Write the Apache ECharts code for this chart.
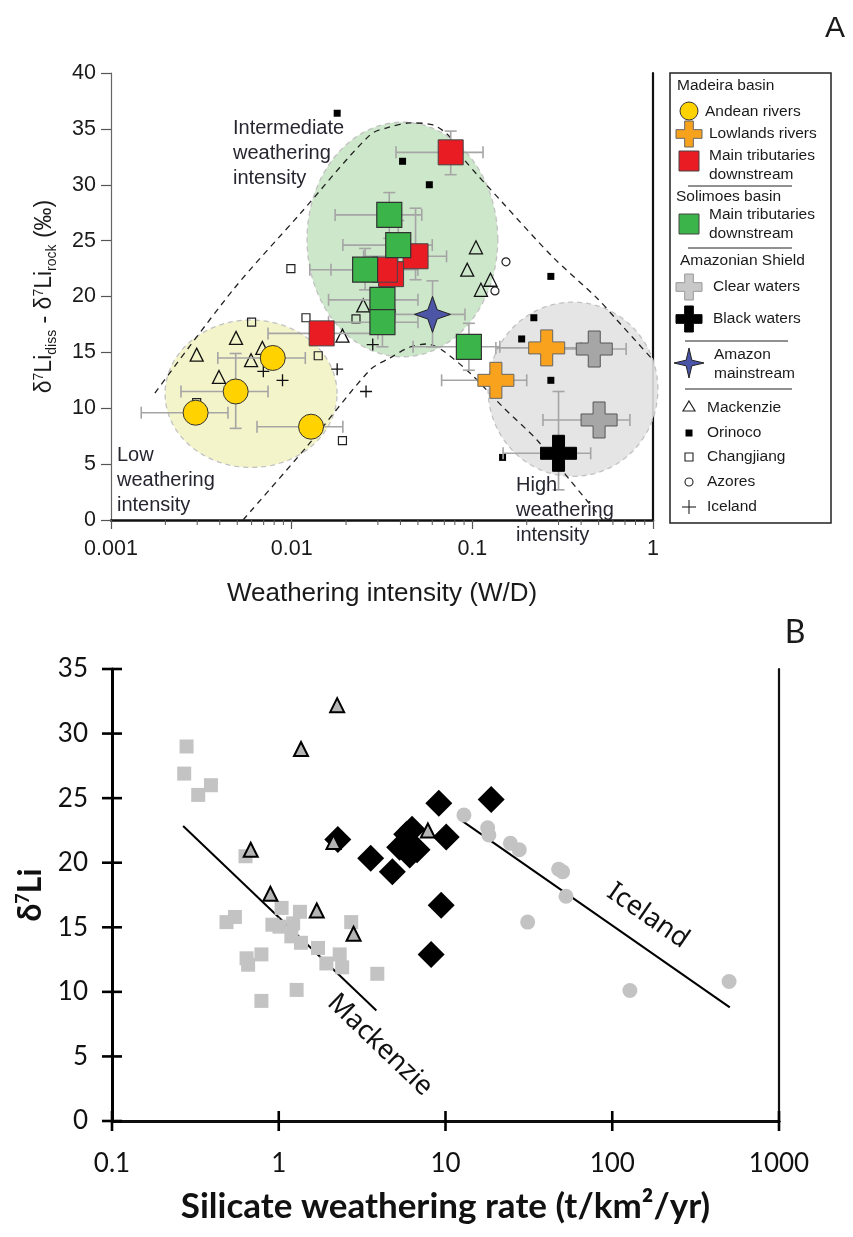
<!DOCTYPE html>
<html><head><meta charset="utf-8">
<script src="https://cdn.jsdelivr.net/npm/echarts@6/dist/echarts.min.js"></script>
<style>html,body{margin:0;padding:0;background:#fff}#c{width:853px;height:1237px}</style>
</head><body><div id="c"></div>
<script>
// ---------------- Panel A data ----------------
const andeanRivers = [[0.00294, 9.6], [0.0049, 11.5], [0.00786, 14.5], [0.0128, 8.35]];
const andeanErr = [[0.00147, 0.00444, null, null], [0.00244, 0.0074, 8.2, 14.9], [0.0039, 0.0119, null, null], [0.00643, 0.0192, null, null]];
const lowlandsRivers = [[0.258, 15.4], [0.135, 12.5]];
const lowlandsErr = [[0.135, 0.40, null, null], [0.0676, 0.2, null, null]];
const madeiraTrib = [[0.0759, 32.9], [0.0485, 23.6], [0.0355, 22.0], [0.0328, 22.4], [0.01466, 16.7]];
const madeiraErr = [[0.0378, 0.1146, 30.9, 34.8], [0.025, 0.072, 21.5, 27.9], [null, null, null, null], [0.0165, 0.05, null, null], [0.0074, 0.03, null, null]];
const solimoesTrib = [[0.0347, 27.3], [0.0389, 24.6], [0.0255, 22.4], [0.0318, 19.7], [0.0318, 17.7], [0.0957, 15.5]];
const solimoesErr = [[0.0174, 0.0525, 25.2, 29.3], [0.0192, 0.06, 22.5, 26.8], [0.0126, 0.04, 20.6, 24.3], [0.016, 0.05, 17.2, 22.2], [0.016, 0.05, 15.5, 20.0], [0.047, 0.142, 13.4, 17.6]];
const clearWaters = [[0.473, 15.3], [0.503, 8.95]];
const clearErr = [[0.27, 0.71, null, null], [0.246, 0.745, null, null]];
const blackWaters = [[0.30, 5.97]];
const blackErr = [[0.148, 0.452, 2.7, 11.5]];
const amazonMain = [[0.0602, 18.4]];
const amazonErr = [[0.0373, 0.091, 15.5, 21.4]];

const mackenzieA = [[0.00492, 16.3], [0.00298, 14.8], [0.00396, 12.8], [0.00596, 14.3], [0.00688, 15.4], [0.0191, 16.5], [0.0249, 19.2], [0.1047, 24.4], [0.0937, 22.4], [0.126, 21.5], [0.1116, 20.6]];
const orinocoA = [[0.01786, 36.4], [0.0411, 32.1], [0.0578, 30.0], [0.272, 21.8], [0.219, 18.1], [0.1875, 16.2], [0.272, 12.5], [0.147, 5.6]];
const changjiangA = [[0.0099, 22.5], [0.0060, 17.7], [0.0120, 18.1], [0.0227, 18.0], [0.01403, 14.7], [0.00298, 10.5], [0.0191, 7.1]];
const azoresA = [[0.1535, 23.1], [0.1334, 20.5]];
const icelandA = [[0.00697, 13.3], [0.0089, 12.5], [0.01786, 13.5], [0.0258, 11.5], [0.0281, 15.7]];

// shaded regions: centre [W/D, d7Li], half-widths [decades, permil]
const regionCentres = [[0.00596, 11.3], [0.0410, 25.1], [0.3606, 11.7]];
const regionRadii = [[0.476, 6.6], [0.528, 10.5], [0.47, 7.8]];
// dashed envelopes
const outerEnvelope = [[0.00175, 11.36], [0.00473, 20.58], [0.0111, 27.38], [0.0271, 34.45], [0.0350, 35.17], [0.0452, 35.53], [0.0605, 35.35], [0.0752, 34.27], [0.0887, 32.39], [0.1476, 28.37], [0.279, 23.53], [0.489, 19.87], [0.631, 17.9], [1.0, 14.32]];
const innerEnvelope = [[0.00538, 0], [0.01211, 6.56], [0.0271, 13.42], [0.035, 14.5], [0.0452, 15.48], [0.0561, 15.75], [0.0679, 15.21], [0.097, 13.15], [0.1476, 10.11], [0.228, 7.16], [0.3467, 3.58], [0.528, 0]];
const minorTicksA = [0.002, 0.003, 0.004, 0.005, 0.006, 0.007, 0.008, 0.009, 0.02, 0.03, 0.04, 0.05, 0.06, 0.07, 0.08, 0.09, 0.2, 0.3, 0.4, 0.5, 0.6, 0.7, 0.8, 0.9];

// ---------------- Panel B data ----------------
const mackenzieSq = [[0.280, 29.0], [0.271, 26.9], [0.392, 26.0], [0.329, 25.25], [0.632, 20.5], [0.486, 15.4], [0.546, 15.8], [0.641, 12.6], [0.655, 12.1], [0.787, 12.9], [0.787, 9.3], [0.916, 15.2], [1.04, 16.5], [1.01, 15.05], [1.22, 15.3], [1.34, 16.2], [1.19, 14.3], [1.36, 13.8], [1.28, 10.15], [1.72, 13.4], [1.93, 12.2], [2.32, 12.9], [2.40, 11.9], [2.72, 15.4], [3.90, 11.4]];
const trianglesB = [[2.24, 32.2], [1.36, 28.8], [0.679, 21.0], [2.13, 21.6], [7.84, 22.5], [0.891, 17.6], [1.69, 16.3], [2.81, 14.5]];
const diamondsB = [[2.26, 21.8], [3.56, 20.35], [4.80, 19.3], [5.31, 21.2], [5.85, 22.2], [6.3, 22.6], [6.75, 21.0], [6.1, 20.6], [9.12, 24.6], [10.1, 22.0], [18.8, 24.9], [9.42, 16.7], [8.20, 12.9]];
const icelandB = [[12.9, 23.7], [17.9, 22.7], [18.2, 22.15], [24.5, 21.5], [27.7, 21.0], [47.7, 19.5], [50.4, 19.3], [52.8, 17.4], [31.1, 15.4], [127.6, 10.1], [502, 10.8]];
const mackenzieTrend = [[0.267, 22.85], [3.85, 8.55]];
const icelandTrend = [[12.7, 23.2], [507, 8.8]];
const ticksBX = [0.1, 1, 10, 100, 1000];
const ticksBY = [0, 5, 10, 15, 20, 25, 30, 35];

// ---------------- helpers ----------------
const FA = '"Liberation Sans", Arial, sans-serif';
const FB = 'Lato, "Open Sans", sans-serif';
const CROSS = 'path://M1,0H2V1H3V2H2V3H1V2H0V1H1Z';
const STAR = 'path://M0,-10L2.6,-2.6L10,0L2.6,2.6L0,10L-2.6,2.6L-10,0L-2.6,-2.6Z';
const PLUS = 'path://M0,4.45H4.45V0H5.55V4.45H10V5.55H5.55V10H4.45V5.55H0Z';

function errRows(pts, errs) {
  return pts.map((p, i) => [p[0], p[1]].concat(errs[i].map(v => v == null ? '-' : v)));
}
function errRender(params, api) {
  const x = api.value(0), y = api.value(1);
  const xlo = api.value(2), xhi = api.value(3), ylo = api.value(4), yhi = api.value(5);
  const st = { stroke: '#a5a5a5', lineWidth: 1.6 };
  const cap = 6, ch = [];
  const ln = (a, b, c, d) => ch.push({ type: 'line', shape: { x1: a, y1: b, x2: c, y2: d }, style: st });
  if (isFinite(xlo) && isFinite(xhi)) {
    const p1 = api.coord([xlo, y]), p2 = api.coord([xhi, y]);
    ln(p1[0], p1[1], p2[0], p2[1]);
    ln(p1[0], p1[1] - cap, p1[0], p1[1] + cap);
    ln(p2[0], p2[1] - cap, p2[0], p2[1] + cap);
  }
  if (isFinite(ylo) && isFinite(yhi)) {
    const p1 = api.coord([x, ylo]), p2 = api.coord([x, yhi]);
    ln(p1[0], p1[1], p2[0], p2[1]);
    ln(p1[0] - cap, p1[1], p1[0] + cap, p1[1]);
    ln(p2[0] - cap, p2[1], p2[0] + cap, p2[1]);
  }
  return { type: 'group', children: ch };
}
function errSeries(pts, errs) {
  return { type: 'custom', xAxisIndex: 0, yAxisIndex: 0, z: 4, silent: true, clip: false,
    data: errRows(pts, errs), encode: { x: 0, y: 1 }, renderItem: errRender };
}
const regionFill = ['rgba(243,243,198,0.92)', 'rgba(200,228,196,0.9)', 'rgba(226,226,226,0.9)'];
function ellipseRender(params, api) {
  const cx = api.value(0), cy = api.value(1), rx = api.value(2), ry = api.value(3);
  const lc = Math.log10(cx), pts = [];
  for (let i = 0; i <= 90; i++) {
    const t = i / 90 * 2 * Math.PI;
    pts.push(api.coord([Math.pow(10, lc + rx * Math.cos(t)), cy + ry * Math.sin(t)]));
  }
  return { type: 'polygon', shape: { points: pts },
    style: { fill: regionFill[params.dataIndex], stroke: '#c2c2c2', lineWidth: 1.3, lineDash: [5, 4] } };
}
function minorTickRender(params, api) {
  const p = api.coord([api.value(0), 0]);
  return { type: 'line', shape: { x1: p[0], y1: p[1], x2: p[0], y2: p[1] + 5 }, style: { stroke: '#555', lineWidth: 1 } };
}
function crossTickX(params, api) {
  const p = api.coord([api.value(0), api.value(1)]);
  return { type: 'line', shape: { x1: p[0], y1: p[1] - 10, x2: p[0], y2: p[1] + 10 }, style: { stroke: '#000', lineWidth: 2.6 } };
}
function crossTickY(params, api) {
  const p = api.coord([api.value(0), api.value(1)]);
  return { type: 'line', shape: { x1: p[0] - 10, y1: p[1], x2: p[0] + 10, y2: p[1] }, style: { stroke: '#000', lineWidth: 2.6 } };
}
function scat(data, symbol, size, style, xi, yi, z) {
  return { type: 'scatter', xAxisIndex: xi, yAxisIndex: yi, data, symbol, symbolSize: size,
    symbolKeepAspect: true, itemStyle: Object.assign({ opacity: 1 }, style), z: z, silent: true };
}
function crossPts(cx, cy, s) {
  const a = s / 6;
  return [[cx - a, cy - 3 * a], [cx + a, cy - 3 * a], [cx + a, cy - a], [cx + 3 * a, cy - a], [cx + 3 * a, cy + a], [cx + a, cy + a], [cx + a, cy + 3 * a], [cx - a, cy + 3 * a], [cx - a, cy + a], [cx - 3 * a, cy + a], [cx - 3 * a, cy - a], [cx - a, cy - a]];
}
function starPts(cx, cy, R, r) {
  const p = [];
  for (let i = 0; i < 8; i++) {
    const ang = i * Math.PI / 4 - Math.PI / 2, rad = i % 2 === 0 ? R : r;
    p.push([cx + rad * Math.cos(ang), cy + rad * Math.sin(ang)]);
  }
  return p;
}
function txt(t, x, y, size, opts) {
  opts = opts || {};
  return { type: 'text', z: 100, silent: true, x: 0, y: 0, rotation: opts.rotation || 0,
    originX: x, originY: y,
    style: { text: t, x: x, y: y, fontSize: size, fontFamily: opts.family || FA, fontWeight: opts.weight || 'normal',
      fill: opts.color || '#1a1a1a', align: opts.align || 'left', textAlign: opts.align || 'left',
      verticalAlign: 'middle', textVerticalAlign: 'middle', lineHeight: opts.lineHeight || size * 1.2 } };
}

// ---------------- legend (panel A) ----------------
const LX = 689;
const legendG = [
  { type: 'rect', z: 90, shape: { x: 670, y: 73, width: 161, height: 450 }, style: { fill: '#fff', stroke: '#222', lineWidth: 1.5 } },
  txt('Madeira basin', 677, 86, 15.5),
  { type: 'circle', z: 95, shape: { cx: LX, cy: 111, r: 9 }, style: { fill: '#ffd200', stroke: '#333', lineWidth: 1 } },
  txt('Andean rivers', 705, 112, 15.5),
  { type: 'polygon', z: 95, shape: { points: crossPts(LX, 134, 26) }, style: { fill: '#f7a21c', stroke: '#666', lineWidth: 1 } },
  txt('Lowlands rivers', 709, 134, 15.5),
  { type: 'rect', z: 95, shape: { x: LX - 10, y: 151, width: 20, height: 20 }, style: { fill: '#e91c24', stroke: '#444', lineWidth: 1 } },
  txt('Main tributaries\ndownstream', 709, 165, 15.5, { lineHeight: 19 }),
  { type: 'line', z: 95, shape: { x1: 688, y1: 186, x2: 792, y2: 186 }, style: { stroke: '#222', lineWidth: 1 } },
  txt('Solimoes basin', 676, 197, 15.5),
  { type: 'rect', z: 95, shape: { x: LX - 10, y: 214, width: 20, height: 20 }, style: { fill: '#3bb54a', stroke: '#444', lineWidth: 1 } },
  txt('Main tributaries\ndownstream', 709, 224, 15.5, { lineHeight: 19 }),
  { type: 'line', z: 95, shape: { x1: 688, y1: 248, x2: 792, y2: 248 }, style: { stroke: '#222', lineWidth: 1 } },
  txt('Amazonian Shield', 680, 261, 15.5),
  { type: 'polygon', z: 95, shape: { points: crossPts(LX, 287, 26) }, style: { fill: '#c8c8c8', stroke: '#999', lineWidth: 1 } },
  txt('Clear waters', 713, 287, 15.5),
  { type: 'polygon', z: 95, shape: { points: crossPts(LX, 319, 26) }, style: { fill: '#000', stroke: '#000', lineWidth: 1 } },
  txt('Black waters', 713, 319, 15.5),
  { type: 'line', z: 95, shape: { x1: 685, y1: 341, x2: 788, y2: 341 }, style: { stroke: '#222', lineWidth: 1.2 } },
  { type: 'polygon', z: 95, shape: { points: starPts(LX, 363, 15, 4) }, style: { fill: '#4a54a6', stroke: '#222', lineWidth: 1 } },
  txt('Amazon\nmainstream', 714, 364, 15.5, { lineHeight: 19 }),
  { type: 'line', z: 95, shape: { x1: 685, y1: 389, x2: 792, y2: 389 }, style: { stroke: '#222', lineWidth: 1 } },
  { type: 'polygon', z: 95, shape: { points: [[LX, 401], [LX + 6, 411], [LX - 6, 411]] }, style: { fill: '#fff', stroke: '#222', lineWidth: 1.2 } },
  txt('Mackenzie', 707, 408, 15.5),
  { type: 'rect', z: 95, shape: { x: LX - 3.5, y: 429.5, width: 7, height: 7 }, style: { fill: '#000' } },
  txt('Orinoco', 707, 433, 15.5),
  { type: 'rect', z: 95, shape: { x: LX - 4, y: 453, width: 8, height: 8 }, style: { fill: '#fff', stroke: '#222', lineWidth: 1.1 } },
  txt('Changjiang', 707, 457, 15.5),
  { type: 'circle', z: 95, shape: { cx: LX, cy: 482, r: 4 }, style: { fill: '#fff', stroke: '#222', lineWidth: 1.1 } },
  txt('Azores', 707, 482, 15.5),
  { type: 'line', z: 95, shape: { x1: LX - 7, y1: 507, x2: LX + 7, y2: 507 }, style: { stroke: '#222', lineWidth: 1.1 } },
  { type: 'line', z: 95, shape: { x1: LX, y1: 500, x2: LX, y2: 514 }, style: { stroke: '#222', lineWidth: 1.1 } },
  txt('Iceland', 707, 507, 15.5)
];

const annotations = [
  txt('A', 835, 29, 30, { align: 'center' }),
  txt('B', 795, 633, 32, { align: 'center', family: FB }),
  txt('Intermediate\nweathering\nintensity', 233, 153, 20, { lineHeight: 25, color: '#262630' }),
  txt('Low\nweathering\nintensity', 117, 480, 20, { lineHeight: 25, color: '#262630' }),
  txt('High\nweathering\nintensity', 516, 510, 20, { lineHeight: 25, color: '#262630' }),
  txt('Mackenzie', 380, 1045, 27, { align: 'center', family: '"Noto Sans", sans-serif', rotation: -43.7 * Math.PI / 180, color: '#111' }),
  txt('Iceland', 648, 916, 27, { align: 'center', family: '"Noto Sans", sans-serif', rotation: -34.8 * Math.PI / 180, color: '#111' })
];

// ---------------- chart ----------------
const chart = echarts.init(document.getElementById('c'), null, { renderer: 'canvas' });
const plainLog = v => String(v);
const option = {
  animation: false,
  backgroundColor: '#fff',
  grid: [
    { left: 111, top: 73, width: 542, height: 447 },
    { left: 112, top: 669, width: 667, height: 452 }
  ],
  xAxis: [
    { gridIndex: 0, type: 'log', logBase: 10, min: 0.001, max: 1,
      axisLine: { lineStyle: { color: '#666', width: 1.2 } },
      axisTick: { length: 9, lineStyle: { color: '#555', width: 1.2 } },
      axisLabel: { fontSize: 21.5, color: '#1a1a1a', fontFamily: FA, margin: 18, formatter: plainLog },
      splitLine: { show: false },
      name: 'Weathering intensity (W/D)', nameLocation: 'middle', nameGap: 61,
      nameTextStyle: { fontSize: 26, color: '#1a1a1a', fontFamily: FA } },
    { gridIndex: 0, type: 'log', logBase: 10, min: 0.001, max: 1, position: 'top',
      axisLine: { lineStyle: { color: '#111', width: 2.5 } }, axisTick: { show: false }, axisLabel: { show: false }, splitLine: { show: false } },
    { gridIndex: 1, type: 'log', logBase: 10, min: 0.1, max: 1000,
      axisLine: { lineStyle: { color: '#000', width: 3 } },
      axisTick: { show: false },
      axisLabel: { fontSize: 26, color: '#111', fontFamily: FB, margin: 30, formatter: plainLog },
      splitLine: { show: false },
      name: 'Silicate weathering rate (t/km²/yr)', nameLocation: 'middle', nameGap: 68,
      nameTextStyle: { fontSize: 35, fontWeight: 'bold', color: '#111', fontFamily: FB } },
    { gridIndex: 1, type: 'log', logBase: 10, min: 0.1, max: 1000, position: 'top',
      axisLine: { lineStyle: { color: '#111', width: 2.5 } }, axisTick: { show: false }, axisLabel: { show: false }, splitLine: { show: false } }
  ],
  yAxis: [
    { gridIndex: 0, type: 'value', min: 0, max: 40, interval: 5,
      axisLine: { show: true, lineStyle: { color: '#666', width: 1.2 } },
      axisTick: { show: true, length: 10, lineStyle: { color: '#555', width: 1.2 } },
      axisLabel: { fontSize: 21.5, color: '#1a1a1a', fontFamily: FA, margin: 15 },
      splitLine: { show: false },
      name: '{m|δ}{p|7}{m|Li}{b|diss}{m| - δ}{p|7}{m|Li}{b|rock}{m| (‰)}', nameLocation: 'middle', nameGap: 52,
      nameTextStyle: { rich: {
        m: { fontSize: 23, fontFamily: FA, color: '#1a1a1a' },
        p: { fontSize: 14, fontFamily: FA, color: '#1a1a1a', padding: [0, 0, 12, 0] },
        b: { fontSize: 14, fontFamily: FA, color: '#1a1a1a', padding: [14, 0, 0, 0] } } } },
    { gridIndex: 0, type: 'value', min: 0, max: 40, position: 'right',
      axisLine: { show: true, lineStyle: { color: '#111', width: 2.2 } }, axisTick: { show: false }, axisLabel: { show: false }, splitLine: { show: false } },
    { gridIndex: 1, type: 'value', min: 0, max: 35, interval: 5,
      axisLine: { show: true, lineStyle: { color: '#000', width: 3 } },
      axisTick: { show: false },
      axisLabel: { fontSize: 26, color: '#111', fontFamily: FB, margin: 24 },
      splitLine: { show: false },
      name: '{m|δ}{p|7}{m|Li}', nameLocation: 'middle', nameGap: 61,
      nameTextStyle: { rich: {
        m: { fontSize: 32, fontWeight: 'bold', fontFamily: FB, color: '#111' },
        p: { fontSize: 18, fontWeight: 'bold', fontFamily: FB, color: '#111', padding: [0, 0, 15, 0] } } } },
    { gridIndex: 1, type: 'value', min: 0, max: 35, position: 'right',
      axisLine: { show: true, lineStyle: { color: '#111', width: 2.2 } }, axisTick: { show: false }, axisLabel: { show: false }, splitLine: { show: false } }
  ],
  graphic: { elements: legendG.concat(annotations) },
  series: [
    // Panel A
    { type: 'custom', xAxisIndex: 0, yAxisIndex: 0, z: 1, silent: true, clip: false,
      data: regionCentres.map((c, i) => c.concat(regionRadii[i])), encode: { x: 0, y: 1 }, renderItem: ellipseRender },
    { type: 'custom', xAxisIndex: 0, yAxisIndex: 0, z: 1, silent: true, clip: false,
      data: minorTicksA.map(v => [v, 0]), encode: { x: 0, y: 1 }, renderItem: minorTickRender },
    { type: 'line', xAxisIndex: 0, yAxisIndex: 0, z: 2, data: outerEnvelope, symbol: 'none', smooth: 0.3, silent: true,
      lineStyle: { color: '#222', width: 1.3, type: [6, 5] } },
    { type: 'line', xAxisIndex: 0, yAxisIndex: 0, z: 2, data: innerEnvelope, symbol: 'none', smooth: 0.3, silent: true,
      lineStyle: { color: '#222', width: 1.3, type: [6, 5] } },
    scat(mackenzieA, 'triangle', 13, { color: 'rgba(255,255,255,0)', borderColor: '#111', borderWidth: 1.3 }, 0, 0, 3),
    scat(orinocoA, 'rect', 7, { color: '#000' }, 0, 0, 3),
    scat(changjiangA, 'rect', 8, { color: 'rgba(255,255,255,0)', borderColor: '#222', borderWidth: 1.2 }, 0, 0, 3),
    scat(azoresA, 'circle', 8, { color: 'rgba(255,255,255,0)', borderColor: '#222', borderWidth: 1.2 }, 0, 0, 3),
    scat(icelandA, PLUS, 12, { color: '#111' }, 0, 0, 3),
    errSeries(andeanRivers, andeanErr),
    errSeries(lowlandsRivers, lowlandsErr),
    errSeries(madeiraTrib, madeiraErr),
    errSeries(solimoesTrib, solimoesErr),
    errSeries(clearWaters, clearErr),
    errSeries(blackWaters, blackErr),
    errSeries(amazonMain, amazonErr),
    scat(andeanRivers, 'circle', 25, { color: '#ffd200', borderColor: '#333', borderWidth: 1 }, 0, 0, 5),
    scat(madeiraTrib, 'rect', 25, { color: '#e91c24', borderColor: '#444', borderWidth: 1 }, 0, 0, 5),
    scat(solimoesTrib, 'rect', 25, { color: '#3bb54a', borderColor: '#333', borderWidth: 1.2 }, 0, 0, 5),
    scat(lowlandsRivers, CROSS, 36, { color: '#f8a21d', borderColor: '#666', borderWidth: 1 }, 0, 0, 6),
    scat(clearWaters, CROSS, 36, { color: '#a6a6a6', borderColor: '#555', borderWidth: 1 }, 0, 0, 6),
    scat(blackWaters, CROSS, 36, { color: '#000', borderColor: '#000', borderWidth: 1 }, 0, 0, 6),
    scat(amazonMain, STAR, 36, { color: '#4c55a6', borderColor: '#222', borderWidth: 1 }, 0, 0, 6),
    // Panel B
    { type: 'custom', xAxisIndex: 2, yAxisIndex: 2, z: 10, silent: true, clip: false,
      data: ticksBX.map(v => [v, 0]), encode: { x: 0, y: 1 }, renderItem: crossTickX },
    { type: 'custom', xAxisIndex: 2, yAxisIndex: 2, z: 10, silent: true, clip: false,
      data: ticksBY.map(v => [0.1, v]), encode: { x: 0, y: 1 }, renderItem: crossTickY },
    { type: 'line', xAxisIndex: 2, yAxisIndex: 2, z: 2, data: mackenzieTrend, symbol: 'none', silent: true, lineStyle: { color: '#000', width: 2 } },
    { type: 'line', xAxisIndex: 2, yAxisIndex: 2, z: 2, data: icelandTrend, symbol: 'none', silent: true, lineStyle: { color: '#000', width: 2 } },
    scat(mackenzieSq, 'rect', 14, { color: '#c3c3c3' }, 2, 2, 3),
    scat(icelandB, 'circle', 15, { color: '#c3c3c3' }, 2, 2, 3),
    scat(diamondsB, 'diamond', 27, { color: '#000' }, 2, 2, 4),
    scat(trianglesB, 'triangle', 14, { color: '#b5b5b5', borderColor: '#000', borderWidth: 2 }, 2, 2, 5)
  ]
};
chart.setOption(option);
</script></body></html>
